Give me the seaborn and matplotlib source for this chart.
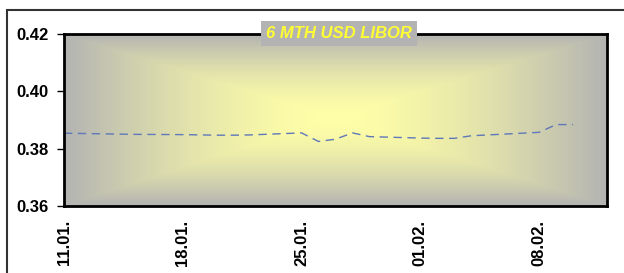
import numpy as np
import pandas as pd
import matplotlib
matplotlib.use("Agg")
import matplotlib.pyplot as plt
import matplotlib.dates as mdates
import matplotlib.patches as mpatches
import seaborn as sns

# ---- data ----
dates = ["2010-01-11", "2010-01-12", "2010-01-13", "2010-01-14", "2010-01-15",
         "2010-01-18", "2010-01-19", "2010-01-20", "2010-01-21", "2010-01-22",
         "2010-01-25", "2010-01-26", "2010-01-27", "2010-01-28", "2010-01-29",
         "2010-02-01", "2010-02-02", "2010-02-03", "2010-02-04", "2010-02-05",
         "2010-02-08", "2010-02-09", "2010-02-10"]
rates = [0.3854, 0.3853, 0.3852, 0.3851, 0.3850,
         0.3849, 0.3848, 0.3847, 0.3847, 0.3848,
         0.3855, 0.3825, 0.3833, 0.3855, 0.3842,
         0.3837, 0.3836, 0.3836, 0.3845, 0.3848,
         0.3857, 0.3884, 0.3884]
tick_dates = ["2010-01-11", "2010-01-18", "2010-01-25", "2010-02-01", "2010-02-08"]
y_ticks = [0.36, 0.38, 0.40, 0.42]
title = "6 MTH USD LIBOR"

df = pd.DataFrame({"date": pd.to_datetime(dates), "rate": rates})

sns.set_theme(style="white")
plt.rcParams["font.family"] = ["Liberation Sans", "DejaVu Sans"]

W, H = 624, 273
fig = plt.figure(figsize=(W / 100, H / 100), dpi=100)
fig.patch.set_facecolor("white")

L, R, T, B = 64, 607, 34, 206
pos = [L / W, 1 - B / H, (R - L) / W, (B - T) / H]

# gradient background axes
bg = fig.add_axes(pos, zorder=0)
nx, ny = 400, 200
xs = np.linspace(0, 1, nx)
ys = np.linspace(0, 1, ny)
X, Y = np.meshgrid(xs, ys)
cx, cy = (335 - L) / (R - L), (118 - T) / (B - T)
u = np.where(X < cx, (cx - X) / cx, (X - cx) / (1 - cx))
v = np.where(Y < cy, (cy - Y) / cy, (Y - cy) / (1 - cy))
t = np.clip(np.maximum(u, v), 0, 1) ** 1.6
c0 = np.array([255, 255, 168]) / 255.0
c1 = np.array([179, 179, 179]) / 255.0
img = c0[None, None, :] * (1 - t[..., None]) + c1[None, None, :] * t[..., None]
bg.imshow(img, extent=[0, 1, 1, 0], aspect="auto", interpolation="bilinear")
bg.set_xlim(0, 1)
bg.set_ylim(1, 0)
bg.axis("off")

ax = fig.add_axes(pos, zorder=1)
ax.set_facecolor("none")
sns.lineplot(data=df, x="date", y="rate", ax=ax, color="#5f78b8",
             linewidth=1.0, linestyle=(0, (6, 4)))

ax.set_xlim(pd.Timestamp("2010-01-11"), pd.Timestamp("2010-02-12"))
ax.set_ylim(0.36, 0.42)
ax.set_yticks(y_ticks)
ax.set_yticklabels([f"{v:.2f}" for v in y_ticks], fontsize=12, fontweight="bold")
ax.set_xticks(pd.to_datetime(tick_dates))
ax.xaxis.set_major_formatter(mdates.DateFormatter("%d.%m."))
for lab in ax.get_xticklabels():
    lab.set_rotation(90)
    lab.set_fontsize(12)
    lab.set_fontweight("bold")
ax.set_xlabel("")
ax.set_ylabel("")
ax.tick_params(axis="y", which="both", left=True, length=5, width=1, color="black", pad=6, labelcolor="black")
ax.tick_params(axis="x", which="both", bottom=False, length=0, pad=10, labelcolor="black")
for sp in ax.spines.values():
    sp.set_visible(True)
    sp.set_color("black")
    sp.set_linewidth(2)
ax.grid(False)

# title box
fig.text(339 / W, 1 - 33 / H, title, ha="center", va="center", color="#ffff33",
         fontsize=12, fontweight="bold", fontstyle="italic",
         bbox=dict(boxstyle="square,pad=0.3", facecolor="#b3b3b3", edgecolor="none"),
         zorder=5)

# outer frame
frame = mpatches.Rectangle((7 / W, -0.2), 1.3, (1 - 10 / H) + 0.2, transform=fig.transFigure,
                           fill=False, edgecolor="#333333", linewidth=1.5, clip_on=False)
fig.patches.append(frame)

fig.savefig("out.png", dpi=100)
